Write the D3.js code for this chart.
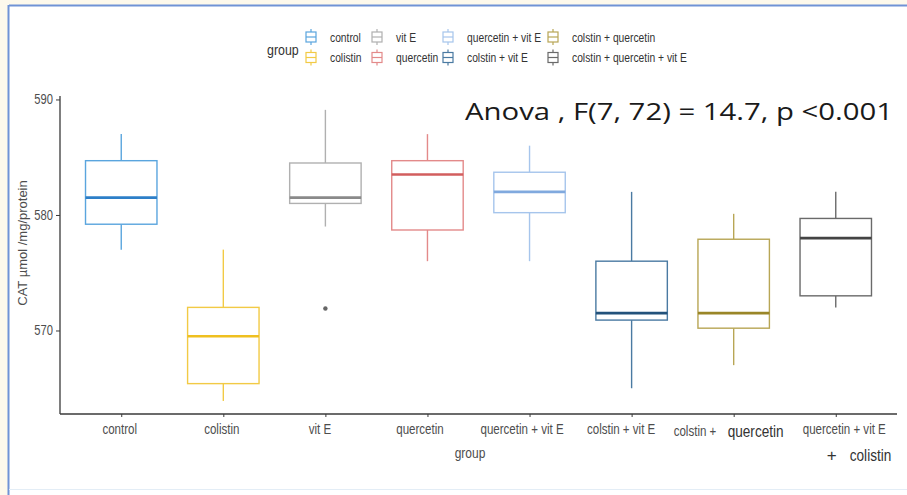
<!DOCTYPE html>
<html>
<head>
<meta charset="utf-8">
<script src="https://cdn.jsdelivr.net/npm/d3@7"></script>
<style>
  html, body { margin: 0; padding: 0; background: #fdf9ec; }
  svg { display: block; }
</style>
</head>
<body>
<svg id="chart" width="907" height="495"></svg>
<script>
// CAT activity per treatment group (box plot summary statistics)
const groups = ["control", "colistin", "vit E", "quercetin", "quercetin + vit E",
                "colstin + vit E", "colstin + quercetin", "colstin + quercetin + vit E"];
const whiskerLow  = [577.0, 563.9, 579.0, 576.0, 576.0, 565.0, 567.0, 572.0];
const q1          = [579.2, 565.4, 581.0, 578.7, 580.2, 570.9, 570.2, 573.0];
const medians     = [581.5, 569.5, 581.5, 583.5, 582.0, 571.5, 571.5, 578.0];
const q3          = [584.7, 572.0, 584.5, 584.7, 583.7, 576.0, 577.9, 579.7];
const whiskerHigh = [587.0, 577.0, 589.1, 587.0, 586.0, 582.0, 580.1, 582.0];
const outliers    = [[], [], [571.9], [], [], [], [], []];
const groupColors  = ["#5aa5de", "#f2ca45", "#b0b0b0", "#e38a8a",
                      "#a6c5ec", "#4a7aa2", "#b8a655", "#6a6a6a"];
const medianColors = ["#2d7fc8", "#efc020", "#8a8a8a", "#d25e5e",
                      "#80a9de", "#23527b", "#9a8628", "#444444"];
const yTicks = [570, 580, 590];
const xLabels = ["control", "colistin", "vit E", "quercetin", "quercetin + vit E",
                 "colstin + vit E", "", "quercetin + vit E"];
const legendLabels = ["control", "colistin", "vit E", "quercetin", "quercetin + vit E",
                      "colstin + vit E", "colstin + quercetin", "colstin + quercetin + vit E"];
const statText = "Anova , F(7, 72) = 14.7, p <0.001";

// horizontal nudges of the category labels (px)
const labelNudge = [-2, -2, -6, -8, -8, -11, 0, 8];

const svg = d3.select("#chart");
const sans = "'Liberation Sans', Arial, sans-serif";

// squeeze text horizontally to a condensed look
function condense(sel, k = 0.8) {
  sel.each(function () {
    const w = this.getComputedTextLength();
    d3.select(this).attr("textLength", w * k).attr("lengthAdjust", "spacingAndGlyphs");
  });
  return sel;
}

// page frame
svg.append("rect").attr("x", 9).attr("y", 6).attr("width", 898).attr("height", 489).attr("fill", "#ffffff");
svg.append("line").attr("x1", 9).attr("x2", 907).attr("y1", 5.5).attr("y2", 5.5)
   .attr("stroke", "#7093d6").attr("stroke-width", 2);
svg.append("line").attr("x1", 8.5).attr("x2", 8.5).attr("y1", 5).attr("y2", 495)
   .attr("stroke", "#7093d6").attr("stroke-width", 2);
svg.append("line").attr("x1", 9).attr("x2", 907).attr("y1", 489.5).attr("y2", 489.5)
   .attr("stroke", "#e3edf6").attr("stroke-width", 1);

const panel = { left: 60, right: 897, top: 96, bottom: 414 };

const x = d3.scalePoint().domain(groups).range([panel.left, panel.right]).padding(0.6);
const y = d3.scaleLinear().domain([562.77, 590.3]).range([panel.bottom, panel.top]);
const boxW = x.step() * 0.7;

// boxes
const data = groups.map((g, i) => ({
  g, lo: whiskerLow[i], q1: q1[i], med: medians[i], q3: q3[i], hi: whiskerHigh[i],
  out: outliers[i], color: groupColors[i], mcolor: medianColors[i]
}));

const boxes = svg.append("g").selectAll("g").data(data).join("g");
boxes.append("line")
  .attr("x1", d => x(d.g)).attr("x2", d => x(d.g))
  .attr("y1", d => y(d.hi)).attr("y2", d => y(d.q3))
  .attr("stroke", d => d.color).attr("stroke-width", 1.4);
boxes.append("line")
  .attr("x1", d => x(d.g)).attr("x2", d => x(d.g))
  .attr("y1", d => y(d.q1)).attr("y2", d => y(d.lo))
  .attr("stroke", d => d.color).attr("stroke-width", 1.4);
boxes.append("rect")
  .attr("x", d => x(d.g) - boxW / 2).attr("width", boxW)
  .attr("y", d => y(d.q3)).attr("height", d => y(d.q1) - y(d.q3))
  .attr("fill", "#ffffff").attr("stroke", d => d.color).attr("stroke-width", 1.4);
boxes.append("line")
  .attr("x1", d => x(d.g) - boxW / 2).attr("x2", d => x(d.g) + boxW / 2)
  .attr("y1", d => y(d.med)).attr("y2", d => y(d.med))
  .attr("stroke", d => d.mcolor).attr("stroke-width", 2.6);
boxes.selectAll("circle").data(d => d.out.map(v => ({ v, g: d.g }))).join("circle")
  .attr("cx", d => x(d.g)).attr("cy", d => y(d.v)).attr("r", 2.2)
  .attr("fill", "#666666");

// axes
const axisColor = "#3a3a3a";
const yAxis = svg.append("g").attr("transform", `translate(${panel.left},0)`)
  .call(d3.axisLeft(y).tickValues(yTicks).tickSize(4).tickPadding(3));
yAxis.select(".domain").attr("d", `M0,${panel.top}V${panel.bottom}`)
  .attr("stroke", axisColor).attr("stroke-width", 1.3);
yAxis.selectAll(".tick line").attr("stroke", axisColor);
condense(yAxis.selectAll(".tick text").attr("font-family", sans).attr("font-size", 14).attr("fill", "#4d4d4d"));

const xAxis = svg.append("g").attr("transform", `translate(0,${panel.bottom})`)
  .call(d3.axisBottom(x).tickSize(3).tickPadding(6).tickFormat((d, i) => xLabels[i]));
xAxis.select(".domain").attr("d", `M${panel.left},0H${panel.right}`)
  .attr("stroke", axisColor).attr("stroke-width", 1.3);
xAxis.selectAll(".tick line").attr("stroke", axisColor);
condense(xAxis.selectAll(".tick text").attr("font-family", sans).attr("font-size", 14.8)
  .attr("fill", "#4d4d4d").attr("dx", (d, i) => labelNudge[i]), 0.78);

// mixed-size label for the 7th group
condense(svg.append("text").attr("x", x(groups[6]) - 60).attr("y", panel.bottom + 22)
  .attr("font-family", sans).attr("font-size", 14.8).attr("fill", "#4d4d4d").text("colstin +"), 0.78);
condense(svg.append("text").attr("x", x(groups[6]) - 6).attr("y", panel.bottom + 23)
  .attr("font-family", sans).attr("font-size", 17).attr("fill", "#333333").text("quercetin"), 0.8);
// second line for the last group
svg.append("text").attr("x", x(groups[7]) - 9).attr("y", panel.bottom + 47)
  .attr("font-family", sans).attr("font-size", 17).attr("fill", "#333333").text("+");
condense(svg.append("text").attr("x", x(groups[7]) + 14).attr("y", panel.bottom + 47)
  .attr("font-family", sans).attr("font-size", 17).attr("fill", "#333333").text("colistin"), 0.8);

// axis titles
condense(svg.append("text").attr("x", 470).attr("y", 458).attr("text-anchor", "middle")
  .attr("font-family", sans).attr("font-size", 15).attr("fill", "#4d4d4d").text("group"), 0.8);
svg.append("text").attr("transform", "translate(27,243) rotate(-90)").attr("text-anchor", "middle")
  .attr("font-family", sans).attr("font-size", 13)
  .attr("fill", "#4d4d4d").text("CAT  \u00b5mol /mg/protein");

// statistic annotation
svg.append("text").attr("x", 465).attr("y", 120)
  .attr("font-family", "'Open Sans', 'Noto Sans', sans-serif").attr("font-size", 24)
  .attr("fill", "#1a1a1a").attr("textLength", 428).attr("lengthAdjust", "spacingAndGlyphs")
  .text(statText);

// legend
const legendItems = [
  { i: 0, col: 0, row: 0 }, { i: 2, col: 1, row: 0 }, { i: 4, col: 2, row: 0 }, { i: 6, col: 3, row: 0 },
  { i: 1, col: 0, row: 1 }, { i: 3, col: 1, row: 1 }, { i: 5, col: 2, row: 1 }, { i: 7, col: 3, row: 1 }
];
const colX = [306, 372, 443, 548];
const rowY = [37, 57.5];
condense(svg.append("text").attr("x", 267).attr("y", 55).attr("font-family", sans)
  .attr("font-size", 15.5).attr("fill", "#333333").text("group"), 0.8);
const leg = svg.append("g").selectAll("g").data(legendItems).join("g")
  .attr("transform", d => `translate(${colX[d.col]},${rowY[d.row]})`);
leg.append("line").attr("x1", 5).attr("x2", 5).attr("y1", -8).attr("y2", 8)
  .attr("stroke", d => groupColors[d.i]).attr("stroke-width", 1.2);
leg.append("rect").attr("x", 0).attr("y", -5).attr("width", 10).attr("height", 10)
  .attr("fill", "#ffffff").attr("stroke", d => groupColors[d.i]).attr("stroke-width", 1.2);
leg.append("line").attr("x1", 0).attr("x2", 10).attr("y1", 0).attr("y2", 0)
  .attr("stroke", d => groupColors[d.i]).attr("stroke-width", 1.2);
condense(leg.append("text").attr("x", 24).attr("y", 4.5).attr("font-family", sans)
  .attr("font-size", 13.2).attr("fill", "#333333").text(d => legendLabels[d.i]), 0.78);
</script>
</body>
</html>
